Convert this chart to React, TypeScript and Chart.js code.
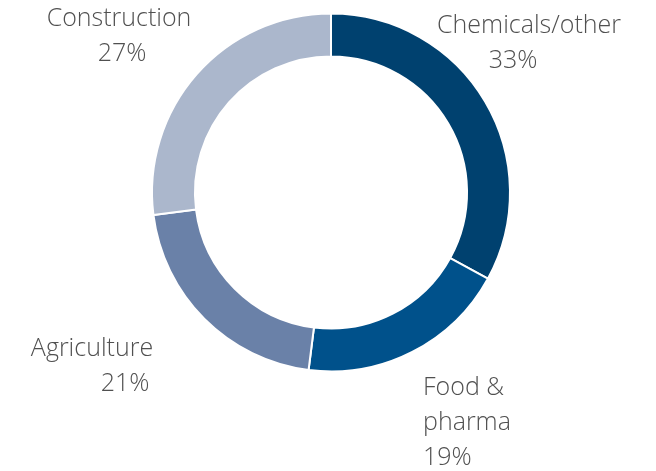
import React, { useEffect, useRef } from "react";
import { Chart, registerables } from "chart.js";

Chart.register(...registerables);

const categories = ["Chemicals/other", "Food & pharma", "Agriculture", "Construction"];
const values = [33, 19, 21, 27];
const colors = ["#00416F", "#00518B", "#6A81A8", "#ABB7CC"];
const labelLines = [
  ["Chemicals/other", "33%"],
  ["Food &", "pharma", "19%"],
  ["Agriculture", "21%"],
  ["Construction", "27%"],
];

// label anchor positions (layout)
const labelPos = [
  { xs: [529, 513], y: 26, align: "center" },
  { xs: [423, 423, 423], y: 388, align: "left" },
  { xs: [92, 125], y: 349, align: "center" },
  { xs: [119, 122], y: 19, align: "center" },
];

const labelPlugin = {
  id: "outerLabels",
  afterDraw(chart: any) {
    const ctx = chart.ctx;
    ctx.save();
    ctx.font = '300 25px "Open Sans"';
    ctx.fillStyle = "#505050";
    ctx.textBaseline = "middle";
    labelLines.forEach((lines, i) => {
      const p = labelPos[i];
      ctx.textAlign = p.align;
      lines.forEach((t, j) => {
        ctx.fillText(t, p.xs[j] ?? p.xs[0], p.y + j * 35);
      });
    });
    ctx.restore();
  },
};

export default function App() {
  const ref = useRef<HTMLCanvasElement>(null);
  useEffect(() => {
    document.body.style.margin = "0";
    const chart = new Chart(ref.current!, {
      type: "doughnut",
      data: {
        labels: categories,
        datasets: [
          {
            data: values,
            backgroundColor: colors,
            borderColor: "#ffffff",
            borderWidth: 2,
          },
        ],
      },
      options: {
        animation: false,
        responsive: false,
        cutout: "76%",
        layout: { padding: { left: 151, right: 145, top: 12.5, bottom: 98.5 } },
        plugins: { legend: { display: false }, tooltip: { enabled: false } },
      },
      plugins: [labelPlugin],
    });
    return () => chart.destroy();
  }, []);
  return <canvas ref={ref} width={656} height={471} style={{ display: "block" }} />;
}
